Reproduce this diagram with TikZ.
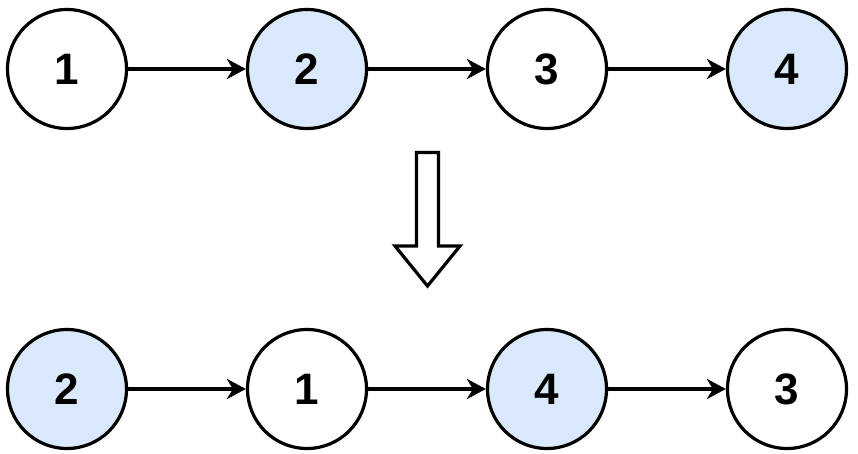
\documentclass[tikz,border=0pt]{standalone}
\usepackage{fontspec}
\setmainfont{Liberation Sans}
\usetikzlibrary{arrows.meta}
\definecolor{nodeblue}{HTML}{DAE8FC}
\begin{document}
\begin{tikzpicture}[x=1pt,y=-1pt,
  lnode/.style={circle,draw=black,line width=3.2pt,minimum size=119pt,inner sep=0pt,fill=white,font=\fontsize{44}{52}\selectfont\bfseries},
  bnode/.style={lnode,fill=nodeblue},
  link/.style={line width=3.2pt,-{Stealth[length=19pt,width=20pt,inset=6pt]}}]
\useasboundingbox (0,0) rectangle (858,454);
\node[lnode] (a1) at (67,69) {1};
\node[bnode] (a2) at (307,69) {2};
\node[lnode] (a3) at (547,69) {3};
\node[bnode] (a4) at (787,69) {4};
\draw[link] (a1) -- (a2);
\draw[link] (a2) -- (a3);
\draw[link] (a3) -- (a4);
\node[bnode] (b2) at (67,389) {2};
\node[lnode] (b1) at (307,389) {1};
\node[bnode] (b4) at (547,389) {4};
\node[lnode] (b3) at (787,389) {3};
\draw[link] (b2) -- (b1);
\draw[link] (b1) -- (b4);
\draw[link] (b4) -- (b3);
\draw[line width=3.2pt,line join=miter,fill=white] (416.5,152.5) -- (438.5,152.5) -- (438.5,246) -- (460,246) -- (427.5,286) -- (395,246) -- (416.5,246) -- cycle;
\end{tikzpicture}
\end{document}
